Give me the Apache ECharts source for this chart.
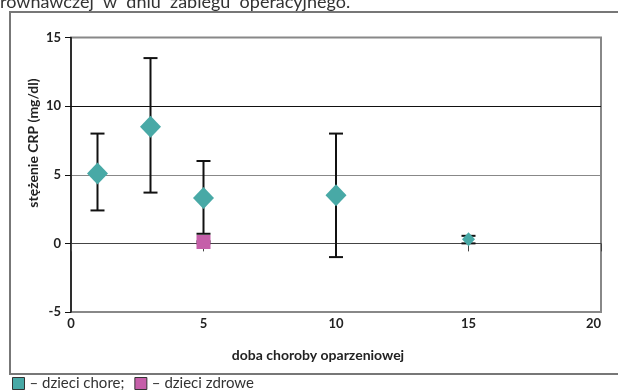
<!DOCTYPE html>
<html>
<head>
<meta charset="utf-8">
<script src="https://cdn.jsdelivr.net/npm/echarts@6/dist/echarts.min.js"></script>
<style>
  html, body { margin: 0; padding: 0; background: #fff; }
  #chart { width: 618px; height: 391px; }
</style>
</head>
<body>
<div id="chart"></div>
<script>
// doba choroby (dni)
var days = [1, 3, 5, 10, 15];
// dzieci chore - średnie i zakres
var sickMean = [5.1, 8.5, 3.3, 3.5, 0.3];
var sickLow = [2.4, 3.7, 0.7, -1.0, 0.0];
var sickHigh = [8.0, 13.5, 6.0, 8.0, 0.55];
// dzieci zdrowe
var healthyDay = [5];
var healthyMean = [0.1];
var healthyLow = [0.0];
var healthyHigh = [0.15];

var xTicks = [0, 5, 10, 15, 20];
var yTicks = [-5, 0, 5, 10, 15];

var teal = '#48a9a6';
var pink = '#c55fa9';
var font = 'Lato, "DejaVu Sans", sans-serif';

function errorBar(params, api) {
  var x = api.value(0);
  var lo = api.coord([x, api.value(1)]);
  var hi = api.coord([x, api.value(2)]);
  var w = 7;
  var style = { stroke: '#111', lineWidth: 2 };
  return {
    type: 'group',
    children: [
      { type: 'line', shape: { x1: hi[0], y1: hi[1], x2: lo[0], y2: lo[1] }, style: style },
      { type: 'line', shape: { x1: hi[0] - w, y1: hi[1], x2: hi[0] + w, y2: hi[1] }, style: style },
      { type: 'line', shape: { x1: lo[0] - w, y1: lo[1], x2: lo[0] + w, y2: lo[1] }, style: style }
    ]
  };
}

var myChart = echarts.init(document.getElementById('chart'));
var option = {
  animation: false,
  textStyle: { fontFamily: font },
  grid: {
    left: 71, right: 17, top: 37.5, bottom: 79,
    show: true,
    borderColor: '#888',
    borderWidth: 2
  },
  legend: {
    left: 12, top: 374,
    padding: [2, 0, 0, 0],
    itemWidth: 12, itemHeight: 12, itemGap: 10,
    icon: 'rect',
    data: ['dzieci chore', 'dzieci zdrowe'],
    itemStyle: { borderColor: '#333', borderWidth: 1 },
    formatter: function (name) {
      return name === 'dzieci chore' ? '– dzieci chore;' : '– dzieci zdrowe';
    },
    textStyle: { fontFamily: font, fontSize: 15, color: '#333' }
  },
  graphic: [
    {
      type: 'rect', silent: true, z: -1,
      shape: { x: 10, y: 12, width: 640, height: 362 },
      style: { fill: 'none', stroke: '#777', lineWidth: 2 }
    },
    {
      type: 'text', silent: true,
      x: 0, y: 11,
      style: {
        text: 'równawczej  w  dniu  zabiegu  operacyjnego.',
        font: '18px ' + font, fill: '#333',
        verticalAlign: 'bottom'
      }
    },
    {
      type: 'text', silent: true,
      x: 33, y: 143, rotation: Math.PI / 2,
      style: {
        text: 'stężenie CRP (mg/dl)',
        font: 'bold 14px ' + font, fill: '#222',
        align: 'center', verticalAlign: 'middle'
      }
    },
    {
      type: 'text', silent: true,
      x: 318, y: 355,
      style: {
        text: 'doba choroby oparzeniowej',
        font: 'bold 14px ' + font, fill: '#222',
        align: 'center', verticalAlign: 'middle'
      }
    }
  ],
  xAxis: [
    {
      type: 'value',
      min: xTicks[0], max: xTicks[xTicks.length - 1], interval: 5,
      position: 'bottom',
      axisLine: { show: false, onZero: false },
      axisTick: { show: false },
      splitLine: { show: false },
      axisLabel: {
        fontFamily: font, fontSize: 13, fontWeight: 'bold', color: '#222',
        margin: 5, alignMaxLabel: 'right'
      }
    },
    {
      type: 'value',
      min: xTicks[0], max: xTicks[xTicks.length - 1], interval: 5,
      position: 'top',
      axisLine: { show: false, onZero: true },
      axisTick: { show: true, inside: true, length: 8, lineStyle: { color: '#444', width: 1 } },
      axisLabel: { show: false },
      splitLine: { show: false }
    }
  ],
  yAxis: {
    type: 'value',
    min: yTicks[0], max: yTicks[yTicks.length - 1], interval: 5,
    axisLine: { show: true, onZero: false, lineStyle: { color: '#111', width: 1.5 } },
    axisTick: { show: true, length: 6, lineStyle: { color: '#111', width: 1 } },
    axisLabel: {
      fontFamily: font, fontSize: 13, fontWeight: 'bold', color: '#222', margin: 10
    },
    splitLine: {
      show: true,
      lineStyle: { color: ['#888', '#444', '#888', '#111', '#888'], width: 1.2 }
    }
  },
  series: [
    {
      name: 'dzieci chore bars',
      type: 'custom',
      renderItem: errorBar,
      encode: { x: 0, y: [1, 2] },
      z: 2,
      data: days.map(function (d, i) { return [d, sickLow[i], sickHigh[i]]; })
    },
    {
      name: 'dzieci zdrowe bars',
      type: 'custom',
      renderItem: errorBar,
      encode: { x: 0, y: [1, 2] },
      z: 2,
      data: healthyDay.map(function (d, i) { return [d, healthyLow[i], healthyHigh[i]]; })
    },
    {
      name: 'dzieci chore',
      type: 'scatter',
      symbol: 'diamond',
      symbolSize: function (val, params) {
        return params.dataIndex === days.length - 1 ? [13, 14] : [21, 22];
      },
      itemStyle: { color: teal, opacity: 1 },
      z: 3,
      data: days.map(function (d, i) { return [d, sickMean[i]]; })
    },
    {
      name: 'dzieci zdrowe',
      type: 'scatter',
      symbol: 'rect',
      symbolSize: 14,
      itemStyle: { color: pink, opacity: 1 },
      z: 3,
      data: healthyDay.map(function (d, i) { return [d, healthyMean[i]]; })
    }
  ]
};
myChart.setOption(option);
</script>
</body>
</html>
